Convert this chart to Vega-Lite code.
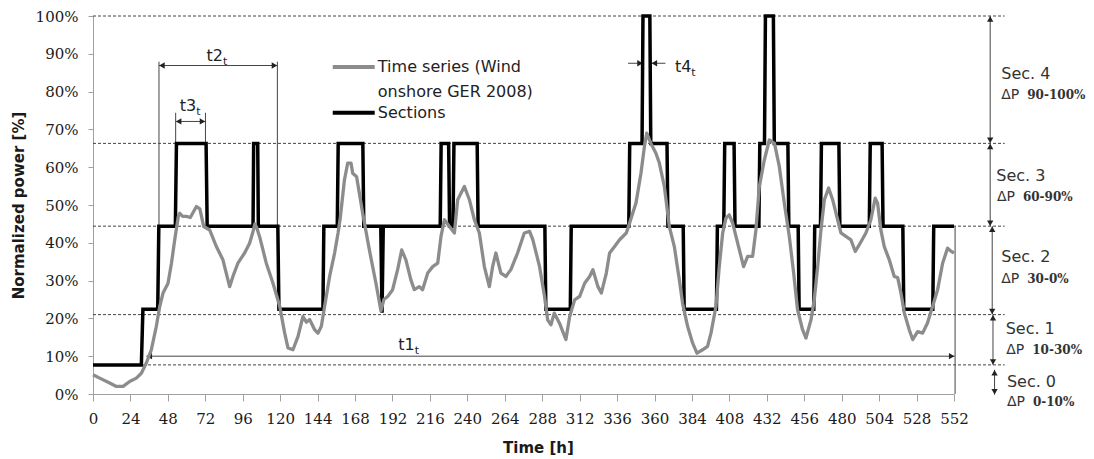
{
  "$schema": "https://vega.github.io/schema/vega-lite/v6.json",
  "width": 861,
  "height": 378,
  "autosize": {"type": "none"},
  "padding": {"left": 93, "top": 16, "right": 140, "bottom": 65},
  "background": "white",
  "config": {"view": {"stroke": null}},
  "datasets": {
    "series": [
      {"h": 0, "p": 5.1}, {"h": 4.3, "p": 4.2}, {"h": 10.7, "p": 2.9}, {"h": 15, "p": 2.0}, {"h": 19.3, "p": 2.0},
      {"h": 23.5, "p": 3.3}, {"h": 27.8, "p": 4.2}, {"h": 31, "p": 5.5}, {"h": 34.2, "p": 8.2}, {"h": 37.4, "p": 11.7},
      {"h": 40.6, "p": 17.9}, {"h": 42.8, "p": 23.2}, {"h": 44.9, "p": 26.7}, {"h": 48.1, "p": 29.3}, {"h": 50.3, "p": 34.6},
      {"h": 52.4, "p": 40.8}, {"h": 54.7, "p": 47.0}, {"h": 55.6, "p": 47.8}, {"h": 57.5, "p": 47.0}, {"h": 59.9, "p": 47.0},
      {"h": 62.4, "p": 46.7}, {"h": 66.3, "p": 49.6}, {"h": 68.5, "p": 49.0}, {"h": 71, "p": 44.3}, {"h": 74.8, "p": 43.4},
      {"h": 79.1, "p": 39.0}, {"h": 83.3, "p": 35.5}, {"h": 87.6, "p": 28.4}, {"h": 89.7, "p": 31.1}, {"h": 92.9, "p": 34.6},
      {"h": 97.2, "p": 37.3}, {"h": 100.4, "p": 39.9}, {"h": 102.6, "p": 43.0}, {"h": 103.8, "p": 45.0}, {"h": 105, "p": 44.0},
      {"h": 106.9, "p": 41.5}, {"h": 111.1, "p": 34.6}, {"h": 115.4, "p": 29.3}, {"h": 119.7, "p": 23.2}, {"h": 122.9, "p": 16.1},
      {"h": 125, "p": 12.2}, {"h": 128.2, "p": 11.7}, {"h": 131.4, "p": 15.2}, {"h": 134.6, "p": 20.5}, {"h": 136.8, "p": 19.0},
      {"h": 138.9, "p": 19.7}, {"h": 142.1, "p": 17.0}, {"h": 144.2, "p": 16.1}, {"h": 146.4, "p": 17.9}, {"h": 148.5, "p": 23.2},
      {"h": 151.7, "p": 31.1}, {"h": 154.9, "p": 37.3}, {"h": 157.1, "p": 42.6}, {"h": 158.5, "p": 46.5}, {"h": 161.2, "p": 56.6},
      {"h": 163.3, "p": 61.1}, {"h": 165.4, "p": 61.1}, {"h": 166.5, "p": 58.4}, {"h": 169, "p": 57.5}, {"h": 172.9, "p": 47.8},
      {"h": 177.2, "p": 38.1}, {"h": 181.4, "p": 29.3}, {"h": 184.6, "p": 22.0}, {"h": 186.5, "p": 25.0}, {"h": 188.9, "p": 25.8},
      {"h": 192.1, "p": 27.6}, {"h": 195.3, "p": 32.9}, {"h": 197.9, "p": 38.1}, {"h": 200.6, "p": 35.5}, {"h": 203.8, "p": 30.2},
      {"h": 206, "p": 27.6}, {"h": 209.2, "p": 28.4}, {"h": 211.3, "p": 27.6}, {"h": 214.6, "p": 32.0}, {"h": 217.8, "p": 33.7},
      {"h": 221, "p": 34.6}, {"h": 223.1, "p": 41.7}, {"h": 225.3, "p": 46.1}, {"h": 228.5, "p": 44.3}, {"h": 231.7, "p": 42.6},
      {"h": 233.8, "p": 51.4}, {"h": 238.1, "p": 54.9}, {"h": 241.3, "p": 51.4}, {"h": 244.5, "p": 46.1}, {"h": 247.7, "p": 42.6},
      {"h": 250.9, "p": 33.7}, {"h": 254.1, "p": 28.4}, {"h": 256.2, "p": 33.7}, {"h": 258.3, "p": 37.3}, {"h": 261.5, "p": 32.0},
      {"h": 264.7, "p": 31.1}, {"h": 267.9, "p": 32.9}, {"h": 272.2, "p": 37.3}, {"h": 276.5, "p": 42.6}, {"h": 279.9, "p": 43.0},
      {"h": 282, "p": 40.8}, {"h": 286.3, "p": 33.7}, {"h": 289.5, "p": 25.8}, {"h": 291.5, "p": 19.6}, {"h": 293.6, "p": 18.3},
      {"h": 295.7, "p": 21.4}, {"h": 299, "p": 18.8}, {"h": 303.2, "p": 14.4}, {"h": 305.6, "p": 20.5}, {"h": 308.8, "p": 24.9},
      {"h": 312, "p": 25.8}, {"h": 315.2, "p": 29.3}, {"h": 318.4, "p": 31.1}, {"h": 320.5, "p": 32.9}, {"h": 323.7, "p": 28.4},
      {"h": 325.9, "p": 26.7}, {"h": 329.1, "p": 32.0}, {"h": 331.2, "p": 37.3}, {"h": 334.4, "p": 39.0}, {"h": 337.6, "p": 40.8},
      {"h": 341.9, "p": 42.6}, {"h": 344, "p": 45.2}, {"h": 348.1, "p": 50.5}, {"h": 351.3, "p": 58.4}, {"h": 353.5, "p": 65.4},
      {"h": 355, "p": 69.0}, {"h": 357.7, "p": 66.3}, {"h": 360.9, "p": 63.7}, {"h": 363.1, "p": 61.1}, {"h": 366.3, "p": 54.9},
      {"h": 369.5, "p": 44.3}, {"h": 372.7, "p": 39.0}, {"h": 375.9, "p": 30.2}, {"h": 378, "p": 24.0}, {"h": 381.2, "p": 17.9},
      {"h": 384.4, "p": 13.5}, {"h": 387.2, "p": 10.8}, {"h": 390.8, "p": 11.7}, {"h": 394, "p": 12.6}, {"h": 396.2, "p": 16.1},
      {"h": 399.4, "p": 23.2}, {"h": 401.5, "p": 33.7}, {"h": 403.7, "p": 42.6}, {"h": 405.8, "p": 46.5}, {"h": 407.9, "p": 47.4},
      {"h": 410.1, "p": 45.2}, {"h": 413.3, "p": 39.9}, {"h": 417.1, "p": 33.7}, {"h": 419.7, "p": 36.4}, {"h": 422.9, "p": 36.4},
      {"h": 425, "p": 43.4}, {"h": 427.2, "p": 54.9}, {"h": 430.4, "p": 61.9}, {"h": 433.6, "p": 67.2}, {"h": 436.9, "p": 66.3},
      {"h": 440, "p": 60.2}, {"h": 443.2, "p": 50.5}, {"h": 446.4, "p": 41.7}, {"h": 449.2, "p": 32.0}, {"h": 451.7, "p": 22.3},
      {"h": 454.9, "p": 17.0}, {"h": 457.1, "p": 14.8}, {"h": 460.3, "p": 19.6}, {"h": 462.4, "p": 24.9}, {"h": 464.6, "p": 33.7},
      {"h": 466.7, "p": 43.4}, {"h": 468.9, "p": 51.4}, {"h": 471.6, "p": 54.5}, {"h": 474.2, "p": 51.4}, {"h": 477.4, "p": 46.1},
      {"h": 479.5, "p": 42.6}, {"h": 482.7, "p": 41.7}, {"h": 485.9, "p": 40.8}, {"h": 488.7, "p": 37.7}, {"h": 491.3, "p": 39.5},
      {"h": 495.5, "p": 42.6}, {"h": 498.7, "p": 46.1}, {"h": 501.5, "p": 51.8}, {"h": 503, "p": 50.5}, {"h": 505.1, "p": 43.4},
      {"h": 507.3, "p": 39.0}, {"h": 510.5, "p": 35.5}, {"h": 513.7, "p": 31.1}, {"h": 515.9, "p": 30.8}, {"h": 518, "p": 26.7},
      {"h": 520.2, "p": 21.4}, {"h": 523.3, "p": 17.0}, {"h": 525.5, "p": 14.4}, {"h": 528.7, "p": 16.5}, {"h": 531.9, "p": 16.1},
      {"h": 535, "p": 18.8}, {"h": 538.3, "p": 23.2}, {"h": 541.5, "p": 27.6}, {"h": 544.7, "p": 34.6}, {"h": 547.9, "p": 38.6},
      {"h": 550, "p": 37.8}, {"h": 552, "p": 37.3}
    ],
    "sections": [
      {"h": 0, "p": 7.7}, {"h": 31, "p": 7.7}, {"h": 32, "p": 22.4}, {"h": 41.5, "p": 22.4}, {"h": 42.2, "p": 44.4},
      {"h": 52.8, "p": 44.4}, {"h": 53.5, "p": 66.3}, {"h": 72.5, "p": 66.3}, {"h": 73.2, "p": 44.4}, {"h": 102.6, "p": 44.4},
      {"h": 103, "p": 66.3}, {"h": 105.6, "p": 66.3}, {"h": 106, "p": 44.4}, {"h": 118.5, "p": 44.4}, {"h": 119.2, "p": 22.4},
      {"h": 147.4, "p": 22.4}, {"h": 148, "p": 44.4}, {"h": 156.6, "p": 44.4}, {"h": 157.2, "p": 66.3}, {"h": 173, "p": 66.3},
      {"h": 173.6, "p": 44.4}, {"h": 184.5, "p": 44.4}, {"h": 185.3, "p": 21.5}, {"h": 186.1, "p": 44.4}, {"h": 222.6, "p": 44.4},
      {"h": 223.2, "p": 66.3}, {"h": 228, "p": 66.3}, {"h": 228.6, "p": 44.4}, {"h": 230.8, "p": 44.4}, {"h": 231.4, "p": 66.3},
      {"h": 246.3, "p": 66.3}, {"h": 246.9, "p": 44.4}, {"h": 289.7, "p": 44.4}, {"h": 290.3, "p": 22.4}, {"h": 306, "p": 22.4},
      {"h": 306.6, "p": 44.4}, {"h": 343.5, "p": 44.4}, {"h": 344.1, "p": 66.3}, {"h": 352, "p": 66.3}, {"h": 352.6, "p": 100},
      {"h": 357, "p": 100}, {"h": 357.6, "p": 66.3}, {"h": 368, "p": 66.3}, {"h": 368.6, "p": 44.4}, {"h": 378.4, "p": 44.4},
      {"h": 379, "p": 22.4}, {"h": 399.7, "p": 22.4}, {"h": 400.3, "p": 44.4}, {"h": 404.4, "p": 44.4}, {"h": 405, "p": 66.3},
      {"h": 411, "p": 66.3}, {"h": 411.6, "p": 44.4}, {"h": 426.9, "p": 44.4}, {"h": 427.5, "p": 66.3}, {"h": 430.5, "p": 66.3},
      {"h": 431.1, "p": 100}, {"h": 436.2, "p": 100}, {"h": 436.8, "p": 66.3}, {"h": 445.5, "p": 66.3}, {"h": 446.1, "p": 44.4},
      {"h": 452.1, "p": 44.4}, {"h": 452.7, "p": 22.4}, {"h": 462.1, "p": 22.4}, {"h": 462.7, "p": 44.4}, {"h": 466.4, "p": 44.4},
      {"h": 467, "p": 66.3}, {"h": 478.2, "p": 66.3}, {"h": 478.8, "p": 44.4}, {"h": 497.7, "p": 44.4}, {"h": 498.3, "p": 66.3},
      {"h": 505.9, "p": 66.3}, {"h": 506.5, "p": 44.4}, {"h": 519.2, "p": 44.4}, {"h": 519.8, "p": 22.4}, {"h": 538.4, "p": 22.4},
      {"h": 539, "p": 44.4}, {"h": 552, "p": 44.4}
    ],
    "levels": [{"p": 100}, {"p": 66.3}, {"p": 44.4}, {"p": 21}, {"p": 7.7}],
    "guides": [
      {"h": 42.3, "h2": 42.3, "p": 87.9, "p2": 44.4},
      {"h": 118.2, "h2": 118.2, "p": 87.9, "p2": 44.4},
      {"h": 42.3, "h2": 118.2, "p": 86.9, "p2": 86.9},
      {"h": 53, "h2": 53, "p": 74.4, "p2": 66.3},
      {"h": 72.1, "h2": 72.1, "p": 74.4, "p2": 66.3},
      {"h": 53, "h2": 72.1, "p": 72.1, "p2": 72.1},
      {"h": 343, "h2": 352.6, "p": 87.5, "p2": 87.5},
      {"h": 358, "h2": 367, "p": 87.5, "p2": 87.5},
      {"h": 34.2, "h2": 552.4, "p": 10, "p2": 10},
      {"h": 552.7, "h2": 552.7, "p": 0, "p2": 44.4},
      {"h": 575.2, "h2": 575.2, "p": 100, "p2": 66.3},
      {"h": 575.2, "h2": 575.2, "p": 66.3, "p2": 44.4},
      {"h": 576.5, "h2": 576.5, "p": 44.4, "p2": 21},
      {"h": 577, "h2": 577, "p": 21, "p2": 7.7},
      {"h": 578, "h2": 578, "p": 6.4, "p2": -0.2}
    ],
    "heads": [
      {"h": 44.2, "p": 86.9, "dir": "left"}, {"h": 116.3, "p": 86.9, "dir": "right"},
      {"h": 54.9, "p": 72.1, "dir": "left"}, {"h": 70.2, "p": 72.1, "dir": "right"},
      {"h": 350.7, "p": 87.5, "dir": "right"}, {"h": 359.9, "p": 87.5, "dir": "left"},
      {"h": 36.1, "p": 10, "dir": "left"}, {"h": 550.5, "p": 10, "dir": "right"},
      {"h": 575.2, "p": 99.2, "dir": "up"}, {"h": 575.2, "p": 67.1, "dir": "down"},
      {"h": 575.2, "p": 65.5, "dir": "up"}, {"h": 575.2, "p": 45.2, "dir": "down"},
      {"h": 576.5, "p": 43.6, "dir": "up"}, {"h": 576.5, "p": 21.8, "dir": "down"},
      {"h": 577, "p": 20.2, "dir": "up"}, {"h": 577, "p": 8.5, "dir": "down"},
      {"h": 578, "p": 5.6, "dir": "up"}, {"h": 578, "p": 0.6, "dir": "down"}
    ],
    "tlabels": [
      {"h": 206.2, "p": 13, "main": "t1"},
      {"h": 83.3, "p": 89.4, "main": "t2"},
      {"h": 66.2, "p": 76.2, "main": "t3"},
      {"h": 383.6, "p": 86.6, "main": "t4"}
    ],
    "secs": [
      {"h": 582.3, "p": 84.7, "txt": "Sec. 4", "hd": 582.3, "pd": 79.1, "nums": "90-100%"},
      {"h": 579.1, "p": 57.8, "txt": "Sec. 3", "hd": 579.5, "pd": 52.2, "nums": "60-90%"},
      {"h": 582.3, "p": 36.2, "txt": "Sec. 2", "hd": 582.3, "pd": 30.4, "nums": "30-0%"},
      {"h": 585.1, "p": 17.2, "txt": "Sec. 1", "hd": 585.5, "pd": 11.7, "nums": "10-30%"},
      {"h": 585.9, "p": 3.3, "txt": "Sec. 0", "hd": 585.9, "pd": -2.2, "nums": "0-10%"}
    ],
    "legendSample": [
      {"h": 153.7, "h2": 180.6, "p": 86.5, "series": "Time series"},
      {"h": 153.7, "h2": 180.6, "p": 74.4, "series": "Sections"}
    ],
    "legendText": [
      {"h": 182.6, "p": 86.5, "txt": "Time series (Wind"},
      {"h": 182.6, "p": 79.9, "txt": "onshore GER 2008)"},
      {"h": 182.6, "p": 74.3, "txt": "Sections"}
    ]
  },
  "layer": [
    {
      "data": {"name": "levels"},
      "mark": {"type": "rule", "color": "#444", "strokeWidth": 1, "strokeDash": [3, 2]},
      "encoding": {
        "x": {"datum": 0, "type": "quantitative", "scale": {"domain": [0, 552], "nice": false},
          "axis": {"values": [0, 24, 48, 72, 96, 120, 144, 168, 192, 216, 240, 264, 288, 312, 336, 360, 384, 408, 432, 456, 480, 504, 528, 552],
            "tickCount": 40,
            "grid": false, "labelFlush": false, "labelOverlap": false, "labelFont": "DejaVu Serif", "labelFontSize": 15, "labelColor": "#1a1a1a",
            "tickSize": 7, "tickColor": "#a0a0a0", "domainColor": "#a0a0a0", "labelPadding": 10,
            "title": "Time [h]", "titleFont": "DejaVu Sans", "titleFontSize": 15, "titleFontWeight": "bold", "titleColor": "#1a1a1a",
            "titlePadding": 14, "titleX": 445}},
        "x2": {"datum": 584.5},
        "y": {"field": "p", "type": "quantitative", "scale": {"domain": [0, 100], "nice": false},
          "axis": {"values": [0, 10, 20, 30, 40, 50, 60, 70, 80, 90, 100], "labelExpr": "datum.value + '%'",
            "tickCount": 20,
            "grid": false, "labelFlush": false, "labelOverlap": false, "labelFont": "DejaVu Serif", "labelFontSize": 15, "labelColor": "#1a1a1a",
            "tickSize": 5, "tickColor": "#a0a0a0", "domainColor": "#a0a0a0", "labelPadding": 10,
            "title": "Normalized power [%]", "titleFont": "DejaVu Sans", "titleFontSize": 15, "titleFontWeight": "bold", "titleColor": "#1a1a1a",
            "titlePadding": 9}}
      }
    },
    {
      "data": {"name": "guides"},
      "mark": {"type": "rule", "color": "#444", "strokeWidth": 1},
      "encoding": {
        "x": {"field": "h", "type": "quantitative"},
        "x2": {"field": "h2"},
        "y": {"field": "p", "type": "quantitative"},
        "y2": {"field": "p2"}
      }
    },
    {
      "data": {"name": "heads"},
      "mark": {"type": "point", "filled": true, "color": "#222", "size": 40, "opacity": 1},
      "encoding": {
        "x": {"field": "h", "type": "quantitative"},
        "y": {"field": "p", "type": "quantitative"},
        "shape": {"field": "dir", "type": "nominal", "legend": null,
          "scale": {"domain": ["left", "right", "up", "down"], "range": ["triangle-left", "triangle-right", "triangle-up", "triangle-down"]}}
      }
    },
    {
      "data": {"name": "sections"},
      "mark": {"type": "line", "color": "#000", "strokeWidth": 3.5, "strokeJoin": "miter", "strokeCap": "butt"},
      "encoding": {
        "x": {"field": "h", "type": "quantitative"},
        "y": {"field": "p", "type": "quantitative"}
      }
    },
    {
      "data": {"name": "series"},
      "mark": {"type": "line", "color": "#8c8c8c", "strokeWidth": 3.3, "strokeJoin": "round"},
      "encoding": {
        "x": {"field": "h", "type": "quantitative"},
        "y": {"field": "p", "type": "quantitative"}
      }
    },
    {
      "data": {"name": "legendSample"},
      "mark": {"type": "rule", "strokeWidth": 4},
      "encoding": {
        "x": {"field": "h", "type": "quantitative"},
        "x2": {"field": "h2"},
        "y": {"field": "p", "type": "quantitative"},
        "color": {"field": "series", "type": "nominal", "legend": null,
          "scale": {"domain": ["Time series", "Sections"], "range": ["#8c8c8c", "#000000"]}}
      }
    },
    {
      "data": {"name": "legendText"},
      "mark": {"type": "text", "align": "left", "baseline": "middle", "font": "DejaVu Sans", "fontSize": 16, "color": "#222"},
      "encoding": {
        "x": {"field": "h", "type": "quantitative"},
        "y": {"field": "p", "type": "quantitative"},
        "text": {"field": "txt"}
      }
    },
    {
      "data": {"name": "tlabels"},
      "mark": {"type": "text", "align": "right", "baseline": "middle", "font": "DejaVu Sans", "fontSize": 16, "color": "#222"},
      "encoding": {
        "x": {"field": "h", "type": "quantitative"},
        "y": {"field": "p", "type": "quantitative"},
        "text": {"field": "main"}
      }
    },
    {
      "data": {"name": "tlabels"},
      "mark": {"type": "text", "align": "left", "baseline": "middle", "font": "DejaVu Sans", "fontSize": 11, "dy": 6, "color": "#222"},
      "encoding": {
        "x": {"field": "h", "type": "quantitative"},
        "y": {"field": "p", "type": "quantitative"},
        "text": {"value": "t"}
      }
    },
    {
      "data": {"name": "secs"},
      "mark": {"type": "text", "align": "left", "baseline": "middle", "font": "DejaVu Sans", "fontSize": 16, "color": "#333"},
      "encoding": {
        "x": {"field": "h", "type": "quantitative"},
        "y": {"field": "p", "type": "quantitative"},
        "text": {"field": "txt"}
      }
    },
    {
      "data": {"name": "secs"},
      "mark": {"type": "text", "align": "left", "baseline": "middle", "font": "DejaVu Sans", "fontSize": 14, "color": "#333"},
      "encoding": {
        "x": {"field": "hd", "type": "quantitative"},
        "y": {"field": "pd", "type": "quantitative"},
        "text": {"value": "ΔP"}
      }
    },
    {
      "data": {"name": "secs"},
      "mark": {"type": "text", "align": "left", "baseline": "middle", "font": "DejaVu Serif", "fontWeight": "bold", "fontSize": 12, "dx": 26, "color": "#333"},
      "encoding": {
        "x": {"field": "hd", "type": "quantitative"},
        "y": {"field": "pd", "type": "quantitative"},
        "text": {"field": "nums"}
      }
    }
  ]
}
